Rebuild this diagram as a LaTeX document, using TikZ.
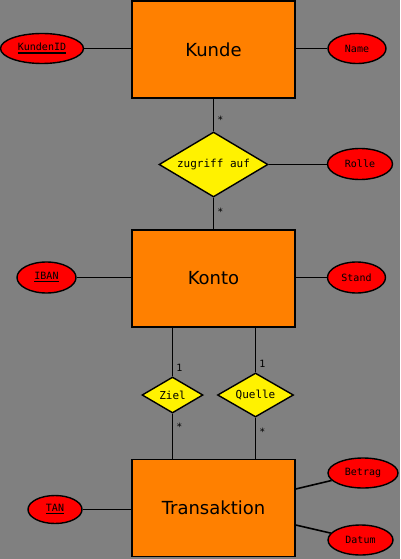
\documentclass[tikz,border=0pt]{standalone}
\usepackage{fontspec}
\setmainfont{DejaVu Sans}
\newfontfamily\monof{DejaVu Sans Mono}
\usetikzlibrary{shapes.geometric}
\definecolor{bggray}{RGB}{128,128,128}
\definecolor{entorange}{RGB}{255,128,0}
\newcommand\keyul[1]{\vtop{\hbox{#1}\kern1.2pt\hrule height 1.3pt}}
\begin{document}
\begin{tikzpicture}[x=1pt,y=-1pt,
  ent/.style={draw,line width=1.4pt,fill=entorange,minimum width=163pt,minimum height=97pt,inner sep=0pt,font=\fontsize{18}{21}\selectfont},
  attr/.style={draw,line width=1.4pt,fill=red,ellipse,inner sep=0pt,font=\monof\fontsize{10}{12}\selectfont},
  rel/.style={draw,line width=1.4pt,fill=yellow,diamond,inner sep=0pt,font=\monof\fontsize{11}{13}\selectfont},
  conn/.style={line width=1.6pt},
  card/.style={font=\monof\fontsize{10}{12}\selectfont,inner sep=0pt}]
\fill[bggray] (0,0) rectangle (400,559);
\useasboundingbox (0,0) rectangle (400,559);
% entities
\node[ent] (kunde) at (213.5,49.5) {Kunde};
\node[ent] (konto) at (213.5,278.5) {Konto};
\node[ent] (trans) at (213.5,508) {Transaktion};
% relations
\node[rel,shape aspect=1.68,minimum width=109pt,minimum height=65pt] (zug) at (213.5,164.5) {zugriff auf};
\node[rel,shape aspect=1.7,minimum width=61pt,minimum height=36pt] (ziel) at (172.5,395) {Ziel};
\node[rel,shape aspect=1.73,minimum width=76pt,minimum height=44pt] (quelle) at (255.5,395) {Quelle};
% attributes
\node[attr,minimum width=83pt,minimum height=30pt] (kid) at (42,48.5) {\keyul{KundenID}};
\node[attr,minimum width=58pt,minimum height=30pt] (name) at (357,48.5) {Name};
\node[attr,minimum width=65pt,minimum height=31pt] (rolle) at (360,164) {Rolle};
\node[attr,minimum width=59pt,minimum height=31pt] (iban) at (46.5,277.5) {\keyul{IBAN}};
\node[attr,minimum width=58pt,minimum height=31pt] (stand) at (356.5,277.5) {Stand};
\node[attr,minimum width=70pt,minimum height=30pt] (betrag) at (363,473) {Betrag};
\node[attr,minimum width=65pt,minimum height=30pt] (datum) at (360.5,540) {Datum};
\node[attr,minimum width=54pt,minimum height=28pt] (tan) at (55,509.5) {\keyul{TAN}};
% connectors
\draw[conn] (kid) -- (kunde.west |- kid);
\draw[conn] (name) -- (kunde.east |- name);
\draw[conn] (kunde.south -| zug.north) -- node[card,right=3pt,pos=0.65] {*} (zug.north);
\draw[conn] (zug.south) -- node[card,right=3pt,pos=0.45] {*} (konto.north -| zug.south);
\draw[conn] (zug.east) -- (zug.east -| rolle.west);
\draw[conn] (iban) -- (konto.west |- iban);
\draw[conn] (stand) -- (konto.east |- stand);
\draw[conn] (konto.south -| ziel.north) -- node[card,right=3pt,pos=0.82] {1} (ziel.north);
\draw[conn] (konto.south -| quelle.north) -- node[card,right=3pt,pos=0.8] {1} (quelle.north);
\draw[conn] (ziel.south) -- node[card,right=3pt,pos=0.3] {*} (trans.north -| ziel.south);
\draw[conn] (quelle.south) -- node[card,right=3pt,pos=0.35] {*} (trans.north -| quelle.south);
\draw[conn] (tan) -- (trans.west |- tan);
\draw[conn] ([yshift=19pt]trans.east) -- (betrag);
\draw[conn] ([yshift=-17pt]trans.east) -- (datum);
\end{tikzpicture}
\end{document}
